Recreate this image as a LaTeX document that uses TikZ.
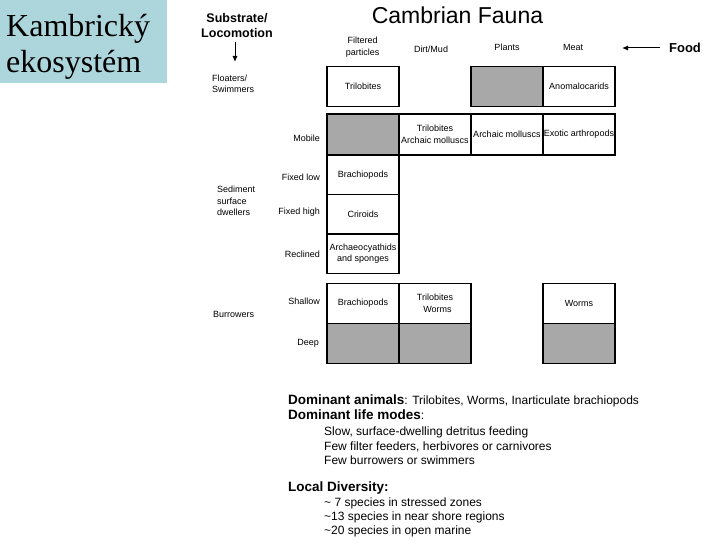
\documentclass[tikz,border=0pt]{standalone}
\usepackage{fontspec}
\setmainfont{Liberation Sans}
\newfontfamily\serifttl{Liberation Serif}
\usetikzlibrary{arrows.meta}
\definecolor{ttlblue}{RGB}{172,214,220}
\definecolor{stip}{gray}{0.66}
\begin{document}
\begin{tikzpicture}[x=1pt,y=-1pt,
  cell/.style={draw, line width=1.2pt, inner sep=0pt, minimum width=72pt, align=center, font=\fontsize{9}{11.5}\selectfont},
  dotcell/.style={cell, fill=stip},
  lab/.style={inner sep=0pt, align=center, font=\fontsize{9}{11.5}\selectfont},
  rlab/.style={lab, anchor=east},
  llab/.style={inner sep=0pt, align=left, anchor=west, font=\fontsize{9}{11.5}\selectfont},
  txt/.style={inner sep=0pt, anchor=west, font=\fontsize{12}{14}\selectfont},
  btxt/.style={inner sep=0pt, anchor=west, font=\fontsize{13.5}{15}\selectfont\bfseries},
  arr/.style={line width=1pt, -{Latex[length=6pt,width=5pt]}},
  ttl/.style={inner sep=0pt, anchor=base west, font=\serifttl\fontsize{32}{36}\selectfont}]
\useasboundingbox (0,0) rectangle (720,540);
\fill[white] (0,0) rectangle (720,540);

% title block
\node[fill=ttlblue, minimum width=167pt, minimum height=83pt, anchor=north west, inner sep=0pt] (ttlbg) at (0,0) {};
\node[ttl] (k1) at (6,37) {Kambrický};
\node[ttl] (k2) at (6,73) {ekosystém};

\node[inner sep=0pt, font=\fontsize{23}{26}\selectfont] (head) at (457.5,15) {Cambrian Fauna};

% substrate / locomotion
\node[inner sep=0pt, align=center, font=\fontsize{12.5}{15}\selectfont\bfseries] (sub) at (237,25.5) {Substrate/\\Locomotion};
\coordinate (subtip) at (235,62);
\draw[arr] (235,42) -- (subtip);
\node[llab] (float) at (212,84) {Floaters/\\Swimmers};

% food
\node[inner sep=0pt, font=\fontsize{13}{15}\selectfont\bfseries] (food) at (685,48) {Food};
\coordinate (foodtip) at (622,48);
\draw[arr] (660,48) -- (foodtip);

% column headers
\node[lab] (hfil) at (362.7,47) {Filtered\\particles};
\node[lab] (hdirt) at (431,49) {Dirt/Mud};
\node[lab] (hplant) at (507,47) {Plants};
\node[lab] (hmeat) at (573,47) {Meat};

% top row (floaters)
\node[cell, minimum height=40pt] (t1) at (363,86.7) {Trilobites};
\node[dotcell, minimum height=40pt] (t3) at (507,86.7) {};
\node[cell, minimum height=40pt] (t4) at (579,86.7) {Anomalocarids};

% mobile row
\node[dotcell, minimum height=41pt] (m1) at (363,134.5) {};
\node[cell, minimum height=41pt] (m2) at (435,134.5) {Trilobites\\Archaic molluscs};
\node[cell, minimum height=41pt] (m3) at (507,134.5) {Archaic molluscs};
\node[cell, minimum height=41pt] (m4) at (579,134.5) {Exotic arthropods};

% fixed / reclined
\node[cell, minimum height=39.5pt] (f1) at (363,174.7) {Brachiopods};
\node[cell, minimum height=39.5pt] (g1) at (363,214.2) {Criroids};
\node[cell, minimum height=39.5pt] (r1) at (363,253.7) {Archaeocyathids\\and sponges};

% burrowers
\node[cell, minimum height=40pt] (s1) at (363,303.3) {Brachiopods};
\node[cell, minimum height=40pt] (s2) at (435,303.3) {Trilobites\\\ \ Worms};
\node[cell, minimum height=40pt] (s4) at (579,303.3) {Worms};
\node[dotcell, minimum height=40pt] (d1) at (363,343.3) {};
\node[dotcell, minimum height=40pt] (d2) at (435,343.3) {};
\node[dotcell, minimum height=40pt] (d4) at (579,343.3) {};

% row labels
\node[rlab] (lmob) at (320,138) {Mobile};
\node[rlab] (lflow) at (320,177.5) {Fixed low};
\node[rlab] (lfhigh) at (320,212.5) {Fixed high};
\node[rlab] (lrec) at (320,254) {Reclined};
\node[rlab] (lsha) at (320,301) {Shallow};
\node[rlab] (ldeep) at (319,343) {Deep};
\node[llab] (lsed) at (217,201) {Sediment\\surface\\dwellers};
\node[llab] (lbur) at (213,314) {Burrowers};

% bottom text
\node[txt] (da) at (288,401) {{\fontsize{13.5}{15}\selectfont\bfseries Dominant animals}: Trilobites, Worms, Inarticulate brachiopods};
\node[txt] (dl) at (288,414.5) {{\fontsize{13.5}{15}\selectfont\bfseries Dominant life modes}:};
\node[txt] (dl1) at (324,432.5) {Slow, surface-dwelling detritus feeding};
\node[txt] (dl2) at (324,446.5) {Few filter feeders, herbivores or carnivores};
\node[txt] (dl3) at (324,460.5) {Few burrowers or swimmers};
\node[btxt] (ld) at (288,488.5) {Local Diversity:};
\node[txt] (ld1) at (324,503.5) {\~{} 7 species in stressed zones};
\node[txt] (ld2) at (324,517.5) {\textasciitilde13 species in near shore regions};
\node[txt] (ld3) at (324,531) {\textasciitilde20 species in open marine};
\end{tikzpicture}
\end{document}
